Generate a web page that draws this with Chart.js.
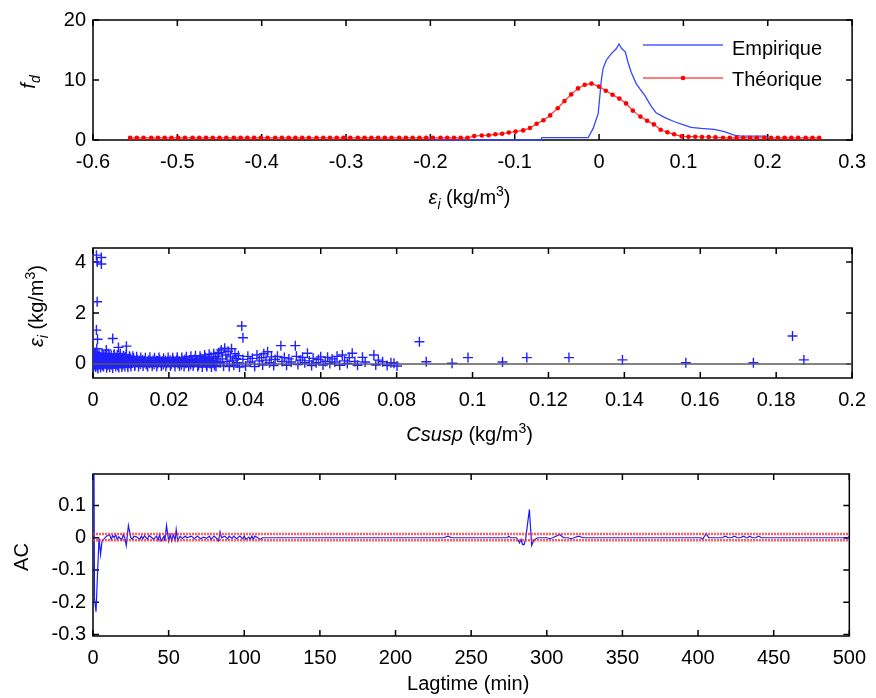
<!DOCTYPE html>
<html>
<head>
<meta charset="utf-8">
<script src="https://cdn.jsdelivr.net/npm/chart.js@4.4.1/dist/chart.umd.min.js"></script>
<style>
  html, body { margin: 0; padding: 0; background: #fff; }
  #cadre { position: relative; width: 876px; height: 698px; overflow: hidden; }
  canvas { position: absolute; left: 0; }
</style>
</head>
<body>
<div id="cadre">
  <canvas id="gDensite" width="876" height="228" style="top:0"></canvas>
  <canvas id="gResidus" width="876" height="227" style="top:228px"></canvas>
  <canvas id="gAuto" width="876" height="243" style="top:455px"></canvas>
</div>
<script>
/* ---------- données ---------- */

// densité empirique des résidus [epsilon, fd]
const empirique = [
  [-0.202, 0], [-0.069, 0], [-0.068, 0.38], [-0.013, 0.38], [-0.007, 1.93], [-0.001, 4.43],
  [0.0027, 9.96], [0.0047, 11.9], [0.0086, 13.3], [0.0145, 14.4], [0.0204, 15.2], [0.0236, 16.0],
  [0.0271, 15.2], [0.0311, 14.7], [0.0342, 13.0], [0.0381, 11.3], [0.044, 9.4], [0.048, 8.6],
  [0.054, 7.47], [0.0617, 5.64], [0.0676, 4.53], [0.0775, 3.76], [0.0894, 3.04], [0.1012, 2.49],
  [0.109, 2.1], [0.1208, 1.93], [0.1366, 1.77], [0.1484, 1.38], [0.1602, 0.83], [0.168, 0.66], [0.1996, 0.66]
];

// densité théorique (abscisses des points rouges)
const theoX = [
  -0.556, -0.548, -0.540, -0.531, -0.523, -0.515, -0.507, -0.499, -0.491, -0.482,
  -0.474, -0.466, -0.458, -0.450, -0.442, -0.433, -0.425, -0.417, -0.409, -0.401,
  -0.393, -0.384, -0.376, -0.368, -0.360, -0.352, -0.344, -0.335, -0.327, -0.319,
  -0.311, -0.303, -0.295, -0.286, -0.278, -0.270, -0.262, -0.254, -0.246, -0.237,
  -0.229, -0.221, -0.213, -0.205, -0.197, -0.188, -0.180, -0.172, -0.164, -0.156,
  -0.148, -0.139, -0.131, -0.123, -0.115, -0.107, -0.099, -0.090, -0.082, -0.074,
  -0.066, -0.058, -0.049, -0.041, -0.033, -0.025, -0.017, -0.009, 0.000, 0.008,
  0.016, 0.024, 0.032, 0.040, 0.049, 0.057, 0.065, 0.073, 0.081, 0.089,
  0.098, 0.106, 0.114, 0.122, 0.130, 0.138, 0.147, 0.155, 0.163, 0.171,
  0.179, 0.187, 0.196, 0.204, 0.212, 0.220, 0.228, 0.236, 0.245, 0.253, 0.261
];
const theoY = [
  0.35, 0.35, 0.35, 0.35, 0.35, 0.35, 0.35, 0.35, 0.35, 0.35,
  0.35, 0.35, 0.35, 0.35, 0.35, 0.35, 0.35, 0.35, 0.35, 0.35,
  0.35, 0.35, 0.35, 0.35, 0.35, 0.35, 0.35, 0.35, 0.35, 0.35,
  0.35, 0.35, 0.35, 0.35, 0.35, 0.35, 0.35, 0.35, 0.35, 0.35,
  0.35, 0.35, 0.35, 0.35, 0.35, 0.35, 0.35, 0.35, 0.35, 0.35,
  0.65, 0.75, 0.8, 0.95, 1.05, 1.25, 1.4, 1.6, 2.0, 2.7,
  3.3, 4.1, 5.3, 6.5, 7.6, 8.6, 9.2, 9.4, 8.9, 8.2,
  7.55, 6.9, 6.1, 4.9, 3.9, 3.2, 2.6, 1.7, 1.3, 0.95,
  0.6, 0.55, 0.55, 0.5, 0.5, 0.45, 0.35, 0.35, 0.35, 0.35,
  0.35, 0.35, 0.35, 0.35, 0.35, 0.35, 0.35, 0.35, 0.35, 0.35, 0.35
];

// résidus en fonction de Csusp [Csusp, epsilon]
const bandeFaible = [
  [0.0002, 0.30], [0.0003, -0.05], [0.0005, 0.12], [0.0006, 0.45], [0.0008, 0.02], [0.0009, 0.22],
  [0.0011, -0.08], [0.0012, 0.35], [0.0014, 0.08], [0.0015, 0.18], [0.0017, -0.02], [0.0019, 0.28],
  [0.0021, 0.05], [0.0023, 0.15], [0.0025, -0.06], [0.0027, 0.32], [0.0029, 0.1], [0.0031, 0.2],
  [0.0033, 0.0], [0.0035, 0.26], [0.0037, 0.07], [0.0039, -0.04], [0.0041, 0.17], [0.0043, 0.3],
  [0.0045, 0.04], [0.0047, 0.12], [0.0049, -0.03], [0.0051, 0.22], [0.0053, 0.09], [0.0055, 0.34],
  [0.0057, 0.0], [0.0059, 0.15], [0.0061, 0.25], [0.0063, 0.05], [0.0065, -0.05], [0.0067, 0.2],
  [0.0069, 0.1], [0.0071, 0.3], [0.0073, 0.02], [0.0075, 0.14], [0.0077, 0.24], [0.0079, -0.02],
  [0.0081, 0.08], [0.0083, 0.18], [0.0085, 0.28], [0.0087, 0.04], [0.0089, 0.12], [0.0091, -0.04],
  [0.0093, 0.2], [0.0095, 0.1], [0.0097, 0.26], [0.0099, 0.0], [0.0101, 0.15], [0.0104, 0.06],
  [0.0107, 0.22], [0.0110, -0.03], [0.0113, 0.12], [0.0116, 0.18]
];
const bandeMoyenne = [
  [0.0119, 0.05], [0.0122, 0.14], [0.0125, 0.0], [0.0128, 0.1], [0.0131, 0.16], [0.0134, 0.04],
  [0.0137, 0.12], [0.014, -0.02], [0.0143, 0.08], [0.0146, 0.15], [0.0149, 0.03], [0.0152, 0.11],
  [0.0155, 0.06], [0.0158, 0.14], [0.0161, -0.01], [0.0164, 0.09], [0.0167, 0.13], [0.017, 0.02],
  [0.0173, 0.1], [0.0176, 0.16], [0.0179, 0.05], [0.0182, 0.12], [0.0185, -0.02], [0.0188, 0.08],
  [0.0191, 0.14], [0.0194, 0.03], [0.0197, 0.11], [0.02, 0.06], [0.0203, 0.15], [0.0206, 0.0],
  [0.0209, 0.09], [0.0212, 0.13], [0.0215, 0.04], [0.0218, 0.1], [0.0221, 0.17], [0.0224, 0.02],
  [0.0227, 0.12], [0.023, 0.07], [0.0233, -0.03], [0.0236, 0.14], [0.0239, 0.08], [0.0242, 0.18],
  [0.0245, 0.03], [0.0248, 0.11], [0.0251, 0.06], [0.0254, 0.16], [0.0257, -0.02], [0.026, 0.1],
  [0.0263, 0.13], [0.0266, 0.04], [0.0269, 0.2], [0.0272, 0.08], [0.0275, 0.15], [0.0278, -0.04],
  [0.0281, 0.11], [0.0284, 0.22], [0.0287, 0.05], [0.029, 0.14], [0.0293, 0.09], [0.0296, 0.25],
  [0.0299, -0.05], [0.0302, 0.12], [0.0305, 0.18], [0.0308, 0.02], [0.0311, 0.28], [0.0314, 0.08],
  [0.0317, 0.15], [0.032, -0.06], [0.0323, 0.22], [0.0326, 0.1], [0.0329, 0.3]
];
const bandeDense = [
  [0.0001, -0.15], [0.0004, 0.4], [0.0007, -0.12], [0.001, 0.25], [0.0013, -0.18], [0.0016, 0.38],
  [0.0018, 0.14], [0.002, -0.14], [0.0024, 0.42], [0.0028, -0.1], [0.0032, 0.36], [0.0036, -0.15],
  [0.004, 0.4], [0.0044, -0.12], [0.0048, 0.33], [0.0052, -0.16], [0.0056, 0.38], [0.006, -0.1],
  [0.0064, 0.35], [0.0068, -0.14], [0.0072, 0.4], [0.0076, -0.12], [0.008, 0.32], [0.0084, -0.1],
  [0.0088, 0.36], [0.0092, -0.13], [0.0096, 0.3], [0.01, -0.1], [0.0105, 0.3], [0.011, -0.08],
  [0.0115, 0.28], [0.012, -0.1], [0.0126, 0.25], [0.0132, -0.08], [0.0138, 0.24], [0.0144, -0.1],
  [0.015, 0.26], [0.0156, -0.08], [0.0162, 0.24], [0.0168, -0.1], [0.0174, 0.25], [0.018, -0.08],
  [0.0186, 0.22], [0.0192, -0.1], [0.0198, 0.25], [0.0204, -0.08], [0.021, 0.24], [0.0216, -0.1],
  [0.0222, 0.26], [0.0228, -0.08], [0.0234, 0.25], [0.024, -0.1], [0.0246, 0.28], [0.0252, -0.1],
  [0.0258, 0.3], [0.0264, -0.08], [0.027, 0.32], [0.0276, -0.1], [0.0282, 0.3], [0.0288, -0.12],
  [0.0294, 0.35], [0.03, -0.1], [0.0306, 0.38], [0.0312, -0.12], [0.0318, 0.4], [0.0324, -0.1], [0.033, 0.42],
  [0.0003, 0.07], [0.0012, 0.1], [0.0022, 0.06], [0.003, 0.12], [0.0042, 0.09], [0.005, 0.05],
  [0.0062, 0.11], [0.007, 0.07], [0.0082, 0.13], [0.009, 0.06], [0.0102, 0.1], [0.0118, 0.07],
  [0.0135, 0.12], [0.0153, 0.07], [0.017, 0.12], [0.019, 0.06], [0.0208, 0.11], [0.0226, 0.06],
  [0.0244, 0.12], [0.0262, 0.07], [0.028, 0.13], [0.0298, 0.06], [0.0316, 0.12]
];
const bandeHaute = [
  [0.0332, 0.45], [0.0335, 0.05], [0.0338, 0.55], [0.0341, 0.2], [0.0344, -0.08], [0.0347, 0.62],
  [0.035, 0.35], [0.0353, 0.1], [0.0356, 0.5], [0.0359, -0.1], [0.0362, 0.28], [0.0365, 0.6],
  [0.0368, 0.15], [0.0371, -0.05], [0.0374, 0.4], [0.0377, 0.22], [0.038, 0.05], [0.0383, 0.32],
  [0.0386, -0.12], [0.0395, 0.18], [0.0402, -0.08], [0.0408, 0.3], [0.0414, 0.08], [0.042, 0.22],
  [0.0426, -0.1], [0.0432, 0.35], [0.0438, 0.12], [0.0444, 0.25], [0.0447, -0.04], [0.045, 0.4],
  [0.0456, 0.15], [0.046, 0.48], [0.0465, 0.05], [0.047, 0.28], [0.0476, -0.06], [0.048, 0.18],
  [0.0486, 0.3], [0.0498, 0.1], [0.0504, 0.25], [0.051, -0.05], [0.0516, 0.2], [0.0522, 0.08],
  [0.0536, 0.3], [0.054, -0.02], [0.0546, 0.15], [0.0552, 0.26], [0.0558, 0.05], [0.0565, 0.42],
  [0.057, 0.12], [0.0576, -0.06], [0.058, 0.22], [0.0588, 0.05], [0.0594, 0.18], [0.06, 0.28],
  [0.0606, -0.04], [0.0612, 0.1], [0.0618, 0.26], [0.0624, 0.02], [0.063, 0.2], [0.0637, 0.08],
  [0.0643, 0.3], [0.065, -0.05], [0.0657, 0.35], [0.0663, 0.12], [0.067, 0.02], [0.0675, 0.25],
  [0.0683, 0.42], [0.069, 0.1], [0.0697, -0.05], [0.071, 0.26], [0.0717, 0.08], [0.074, 0.35],
  [0.0745, -0.04], [0.0752, 0.15], [0.0763, 0.09], [0.0775, -0.06], [0.0785, 0.05], [0.0793, 0.03],
  [0.0801, -0.08]
];
const isoles = [
  [0.0009, 4.27], [0.0022, 4.18], [0.0011, 4.0], [0.0022, 3.92], [0.0011, 2.44], [0.0009, 1.33],
  [0.0012, 0.97], [0.0052, 1.0], [0.0088, 0.7], [0.0067, 0.65], [0.0010, 0.6], [0.0035, 0.55],
  [0.0392, 1.49], [0.0395, 1.03], [0.0495, 0.72], [0.0533, 0.72],
  [0.086, 0.87], [0.0878, 0.09], [0.0946, 0.03], [0.0988, 0.25], [0.1079, 0.08], [0.1143, 0.25],
  [0.1254, 0.25], [0.1395, 0.16], [0.1562, 0.05], [0.174, 0.05], [0.1843, 1.1], [0.1873, 0.16]
];

// autocorrélation [lag (min), AC]
const autoCorr = [
  [0, 1.0], [1, -0.19], [2, -0.23], [3, -0.11], [4, 0.0], [5, -0.052], [6, -0.01], [7, -0.005],
  [9, 0.005], [11, 0.01], [12, -0.005], [13, 0.007], [14, 0.0], [15, 0.01], [16, -0.005], [17, 0.003],
  [19, -0.007], [20, 0.01], [21, 0.0], [22, -0.024], [23.4, 0.038], [25, 0.0], [26, -0.005], [27, 0.005],
  [29, 0.002], [31, -0.005], [32, 0.005], [33, -0.003], [34, 0.007], [36, -0.005], [37, 0.007], [39, 0.0],
  [40, -0.005], [42, 0.005], [43, -0.008], [44, 0.01], [45, -0.01], [47, 0.005], [47.5, -0.01], [48.6, 0.038],
  [50, -0.01], [51, 0.01], [52, -0.01], [53, 0.01], [54.3, -0.007], [55, 0.026], [56, -0.01], [57.5, 0.005],
  [59, -0.002], [61, 0.005], [62, 0.0], [65, 0.005], [67, -0.003], [69, 0.005], [71, -0.003], [73, 0.002],
  [75, -0.002], [77, 0.005], [78, -0.005], [80, 0.005], [82, -0.003], [83, -0.01], [84, 0.018], [85, 0.0],
  [87, 0.005], [89, -0.003], [90, 0.005], [92, -0.002], [93, 0.005], [95, -0.003], [97, 0.005], [99, -0.003],
  [100, 0.005], [101, -0.005], [103, 0.002], [104, -0.005], [105, 0.005], [106, -0.005], [107, 0.005], [109, 0.0],
  [110.5, -0.005], [112, 0.0], [232, 0.0], [234.7, 0.005], [237, 0.0], [274, 0.0], [274.7, 0.005], [276, 0.0],
  [280, 0.0], [282, -0.016], [283, -0.005], [284, -0.021], [285, -0.021], [286, -0.005], [288.5, 0.088],
  [290, -0.024], [291.5, -0.007], [294, 0.0], [300, 0.0], [302, -0.003], [304, 0.0], [308.6, 0.01], [311, 0.0],
  [314, 0.0], [316, -0.003], [318, 0.0], [321, 0.005], [324, 0.0], [402, 0.0], [403, -0.005], [405.4, 0.013],
  [407, 0.0], [416, 0.0], [418, 0.005], [420, 0.0], [422, 0.0], [424, 0.005], [426, 0.0], [428, 0.0],
  [430, 0.005], [432, 0.0], [433, 0.0], [434, 0.005], [436, 0.0], [438, 0.0], [440, 0.005], [442, 0.0],
  [497, 0.0], [498, -0.003], [500, 0.004]
];
const bornesAC = [0.012, -0.008];

// graduations
const fdXTicks = [-0.6, -0.5, -0.4, -0.3, -0.2, -0.1, 0, 0.1, 0.2, 0.3];
const fdYTicks = [0, 10, 20];
const csXTicks = [0, 0.02, 0.04, 0.06, 0.08, 0.1, 0.12, 0.14, 0.16, 0.18, 0.2];
const epsYTicks = [0, 2, 4];
const lagTicks = [0, 50, 100, 150, 200, 250, 300, 350, 400, 450, 500];
const acYTicks = [-0.3, -0.2, -0.1, 0, 0.1];

/* ---------- outils ---------- */

const POLICE = '"Liberation Sans", Arial, sans-serif';
Chart.defaults.font.family = POLICE;
Chart.defaults.font.size = 20;
Chart.defaults.color = '#000';

const enPoints = arr => arr.map(p => ({ x: p[0], y: p[1] }));

function axeX(min, max, ticks, hauteur) {
  return {
    type: 'linear', min, max,
    grid: { display: false, drawTicks: false },
    border: { display: false },
    ticks: { padding: 10, maxRotation: 0, autoSkip: false, callback: v => String(v) },
    afterBuildTicks: s => { s.ticks = ticks.map(v => ({ value: v })); },
    afterFit: s => { s.height = hauteur; }
  };
}

function axeY(min, max, ticks) {
  return {
    type: 'linear', min, max,
    grid: { display: false, drawTicks: false },
    border: { display: false },
    ticks: { padding: 7, autoSkip: false, callback: v => String(v) },
    afterBuildTicks: s => { s.ticks = ticks.map(v => ({ value: v })); },
    afterFit: s => { s.width = 93; }
  };
}

function texteRiche(ctx, parts, x, y, vertical) {
  ctx.save();
  ctx.translate(x, y);
  if (vertical) ctx.rotate(-Math.PI / 2);
  ctx.textBaseline = 'alphabetic';
  ctx.textAlign = 'left';
  const police = p => `${p.it ? 'italic ' : ''}${p.sub || p.sup ? 14 : 20}px ${POLICE}`;
  let total = 0;
  for (const p of parts) { ctx.font = police(p); total += ctx.measureText(p.t).width; }
  let cx = -total / 2;
  for (const p of parts) {
    ctx.font = police(p);
    ctx.fillText(p.t, cx, p.sub ? 5 : p.sup ? -8 : 0);
    cx += ctx.measureText(p.t).width;
  }
  ctx.restore();
}

// boîte, graduations intérieures et titres façon MATLAB
function habillage(cfg) {
  return {
    id: 'habillage',
    beforeDatasetsDraw(chart) {
      const { ctx, chartArea: a, scales: { x, y } } = chart;
      ctx.save();
      ctx.strokeStyle = '#000';
      ctx.lineWidth = 1.5;
      ctx.strokeRect(a.left, a.top, a.right - a.left, a.bottom - a.top);
      ctx.beginPath();
      cfg.xTicks.forEach(v => {
        const p = x.getPixelForValue(v);
        ctx.moveTo(p, a.bottom); ctx.lineTo(p, a.bottom - 6);
        ctx.moveTo(p, a.top); ctx.lineTo(p, a.top + 6);
      });
      cfg.yTicks.forEach(v => {
        const p = y.getPixelForValue(v);
        ctx.moveTo(a.left, p); ctx.lineTo(a.left + 6, p);
        ctx.moveTo(a.right, p); ctx.lineTo(a.right - 6, p);
      });
      ctx.stroke();
      ctx.restore();
    },
    afterDraw(chart) {
      const { ctx, chartArea: a } = chart;
      ctx.save();
      ctx.fillStyle = '#000';
      texteRiche(ctx, cfg.xTitre, (a.left + a.right) / 2 - 3, cfg.xTitreY, false);
      texteRiche(ctx, cfg.yTitre, cfg.yTitreX, cfg.yTitreY, true);
      if (cfg.legende) cfg.legende(ctx);
      ctx.restore();
    }
  };
}

const base = (haut, droite) => ({
  responsive: false,
  animation: false,
  devicePixelRatio: 1,
  layout: { padding: { top: haut, right: droite, left: 0, bottom: 0 } },
  plugins: { legend: { display: false }, tooltip: { enabled: false } }
});

const epsTitre = [{ t: 'ε', it: 1 }, { t: 'i', it: 1, sub: 1 }, { t: ' (kg/m' }, { t: '3', sup: 1 }, { t: ')' }];

/* ---------- 1. densités ---------- */

new Chart(document.getElementById('gDensite'), {
  type: 'line',
  data: {
    datasets: [
      {
        label: 'Théorique',
        data: theoX.map((v, i) => ({ x: v, y: theoY[i] })),
        borderColor: '#ff3030',
        borderWidth: 1.2,
        pointRadius: 2.3,
        pointBackgroundColor: '#ff0000',
        pointBorderWidth: 0,
        order: 0
      },
      {
        label: 'Empirique',
        data: enPoints(empirique),
        borderColor: '#3347ff',
        borderWidth: 1.3,
        pointRadius: 0,
        clip: 3,
        order: 1
      }
    ]
  },
  options: {
    ...base(20, 21),
    scales: { x: axeX(-0.6, 0.3, fdXTicks, 88), y: axeY(0, 20, fdYTicks) }
  },
  plugins: [habillage({
    xTicks: fdXTicks, yTicks: fdYTicks,
    xTitre: epsTitre, xTitreY: 204,
    yTitre: [{ t: 'f', it: 1 }, { t: 'd', it: 1, sub: 1 }], yTitreX: 35, yTitreY: 82,
    legende(ctx) {
      ctx.lineWidth = 1.5;
      ctx.strokeStyle = '#4a5cff';
      ctx.beginPath(); ctx.moveTo(643, 45); ctx.lineTo(723, 45); ctx.stroke();
      ctx.strokeStyle = '#ff5050';
      ctx.beginPath(); ctx.moveTo(643, 78); ctx.lineTo(723, 78); ctx.stroke();
      ctx.fillStyle = '#ff0000';
      ctx.beginPath(); ctx.arc(683, 78, 2.3, 0, Math.PI * 2); ctx.fill();
      ctx.fillStyle = '#000';
      ctx.font = `20px ${POLICE}`;
      ctx.textBaseline = 'middle';
      ctx.textAlign = 'left';
      ctx.fillText('Empirique', 732, 49);
      ctx.fillText('Théorique', 732, 80);
    }
  })]
});

/* ---------- 2. résidus vs Csusp ---------- */

const croix = {
  showLine: false,
  pointStyle: 'cross',
  pointRadius: 5,
  pointBorderWidth: 1.4,
  pointBorderColor: '#2020ff',
  borderColor: '#2020ff',
  order: 1
};

new Chart(document.getElementById('gResidus'), {
  type: 'scatter',
  data: {
    datasets: [
      { ...croix, data: enPoints(bandeDense) },
      { ...croix, data: enPoints(bandeFaible) },
      { ...croix, data: enPoints(bandeMoyenne) },
      { ...croix, data: enPoints(bandeHaute) },
      { ...croix, data: enPoints(isoles) },
      {
        data: [{ x: 0, y: 0 }, { x: 0.2, y: 0 }],
        showLine: true, pointRadius: 0, borderColor: '#5a5a5a', borderWidth: 1.5, order: 0
      }
    ]
  },
  options: {
    ...base(20, 21),
    scales: { x: axeX(0, 0.2, csXTicks, 77), y: axeY(-0.55, 4.55, epsYTicks) }
  },
  plugins: [habillage({
    xTicks: csXTicks, yTicks: epsYTicks,
    xTitre: [{ t: 'Csusp', it: 1 }, { t: ' (kg/m' }, { t: '3', sup: 1 }, { t: ')' }], xTitreY: 213,
    yTitre: epsTitre, yTitreX: 43, yTitreY: 78
  })]
});

/* ---------- 3. autocorrélation ---------- */

new Chart(document.getElementById('gAuto'), {
  type: 'scatter',
  data: {
    datasets: [
      {
        data: enPoints(autoCorr),
        showLine: true, pointRadius: 0, borderColor: '#1a1aff', borderWidth: 1.2, order: 1
      },
      ...bornesAC.map(b => ({
        data: [{ x: 0, y: b }, { x: 500, y: b }],
        showLine: true, pointRadius: 0, borderColor: 'rgba(255,40,40,0.75)',
        borderWidth: 2.5, borderDash: [2, 1], order: 0
      }))
    ]
  },
  options: {
    ...base(19, 21),
    scales: { x: axeX(0, 500, lagTicks, 62), y: axeY(-0.305, 0.198, acYTicks) }
  },
  plugins: [habillage({
    xTicks: lagTicks, yTicks: acYTicks,
    xTitre: [{ t: 'Lagtime (min)' }], xTitreY: 235,
    yTitre: [{ t: 'AC' }], yTitreX: 28, yTitreY: 102
  })]
});
</script>
</body>
</html>
